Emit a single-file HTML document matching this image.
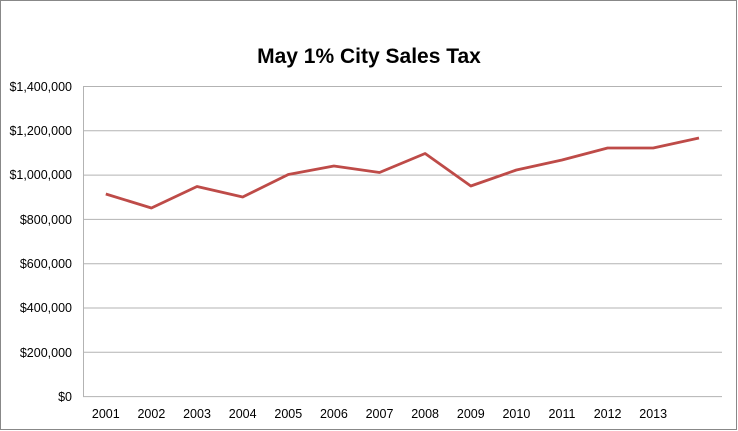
<!DOCTYPE html>
<html><head><style>
body{margin:0;background:#fff}
svg{display:block}
</style></head><body>
<svg width="738" height="431" xmlns="http://www.w3.org/2000/svg" font-family="Liberation Sans, sans-serif">
<rect x="0.5" y="0.5" width="736" height="429" fill="#fff" stroke="#888" stroke-width="1"/>
<text x="369" y="63" text-anchor="middle" font-size="21" font-weight="bold" fill="#000">May 1% City Sales Tax</text>
<g stroke="#b3b3b3" stroke-width="1">
<line x1="83" y1="86.5" x2="722" y2="86.5"/>
<line x1="83" y1="130.8" x2="722" y2="130.8"/>
<line x1="83" y1="175.1" x2="722" y2="175.1"/>
<line x1="83" y1="219.4" x2="722" y2="219.4"/>
<line x1="83" y1="263.7" x2="722" y2="263.7"/>
<line x1="83" y1="308" x2="722" y2="308"/>
<line x1="83" y1="352.3" x2="722" y2="352.3"/>
<line x1="83" y1="396.6" x2="722" y2="396.6"/>
<line x1="83.5" y1="86" x2="83.5" y2="397"/>
</g>
<g font-size="12.5" fill="#000" text-anchor="end">
<text x="72" y="91">$1,400,000</text>
<text x="72" y="135">$1,200,000</text>
<text x="72" y="179">$1,000,000</text>
<text x="72" y="224">$800,000</text>
<text x="72" y="268">$600,000</text>
<text x="72" y="312">$400,000</text>
<text x="72" y="357">$200,000</text>
<text x="72" y="401">$0</text>
</g>
<g font-size="12.5" fill="#000" text-anchor="middle">
<text x="105.8" y="418">2001</text><text x="151.4" y="418">2002</text><text x="197" y="418">2003</text><text x="242.7" y="418">2004</text><text x="288.3" y="418">2005</text><text x="333.9" y="418">2006</text><text x="379.5" y="418">2007</text><text x="425.1" y="418">2008</text><text x="470.8" y="418">2009</text><text x="516.4" y="418">2010</text><text x="562" y="418">2011</text><text x="607.6" y="418">2012</text><text x="653.2" y="418">2013</text>
</g>
<polyline fill="none" stroke="#be4b48" stroke-width="2.8" stroke-linejoin="round" points="105.8,194 151.4,208 197,186.5 242.7,197 288.3,174.5 333.9,166 379.5,172.5 425.1,153.5 470.8,186 516.4,170 562,160 607.6,148 653.2,148 699,138"/>
</svg>
</body></html>
